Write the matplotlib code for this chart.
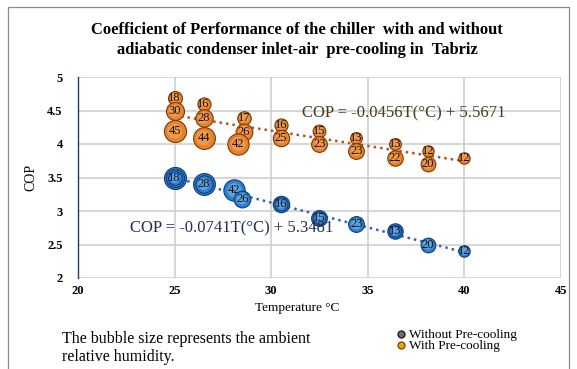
import matplotlib
matplotlib.use("Agg")
import matplotlib.pyplot as plt
from matplotlib.lines import Line2D
from matplotlib.patches import Rectangle
import numpy as np

# ---- data ----
with_T = [25.0, 25.0, 25.0, 26.5, 26.5, 26.5, 28.6, 28.6, 28.3, 30.5, 30.5,
          32.5, 32.5, 34.4, 34.4, 36.4, 36.4, 38.1, 38.1, 40.0]
with_cop = [4.69, 4.49, 4.19, 4.60, 4.39, 4.09, 4.39, 4.18, 4.00, 4.28, 4.09,
            4.19, 4.00, 4.09, 3.90, 4.00, 3.79, 3.90, 3.70, 3.79]
with_rh = [18, 30, 45, 16, 28, 44, 17, 26, 42, 16, 25,
           15, 23, 13, 23, 13, 22, 12, 20, 12]

wo_T = [25.0, 25.0, 25.0, 26.5, 26.5, 26.5, 28.1, 28.5, 28.5, 30.5, 30.5,
        32.5, 32.5, 34.4, 34.4, 36.4, 36.4, 38.1, 38.1, 40.0]
wo_cop = [3.49, 3.49, 3.49, 3.40, 3.40, 3.40, 3.31, 3.18, 3.18, 3.10, 3.10,
          2.90, 2.90, 2.80, 2.80, 2.70, 2.70, 2.50, 2.50, 2.40]
wo_rh = [45, 30, 18, 44, 16, 28, 42, 17, 26, 25, 16,
         23, 15, 13, 23, 22, 13, 12, 20, 12]

with_slope, with_icpt = -0.0456, 5.5671
wo_slope, wo_icpt = -0.0741, 5.3481
x_ticks = [20, 25, 30, 35, 40, 45]
y_ticks = [2, 2.5, 3, 3.5, 4, 4.5, 5]

serif = "Liberation Serif"

fig = plt.figure(figsize=(5.77, 3.69), dpi=100)
fig.patch.set_facecolor("white")
fig.add_artist(Rectangle((8/577, -0.01), 1 - 16/577, 1 - 7/369 + 0.01,
                         transform=fig.transFigure, fill=False,
                         edgecolor="#8c8c8c", linewidth=0.9))

ax = fig.add_axes([78/577, 1 - 278/369, (561 - 78)/577, (278 - 77)/369])
ax.set_xlim(20, 45)
ax.set_ylim(2, 5)
ax.set_xticks(x_ticks)
ax.set_yticks(y_ticks)
ax.set_xticklabels([str(v) for v in x_ticks], fontfamily=serif, fontweight="bold", fontsize=9)
ax.set_yticklabels([("%g" % v) for v in y_ticks], fontfamily=serif, fontweight="bold", fontsize=9)
ax.tick_params(axis="y", length=0, pad=11)
ax.tick_params(axis="x", length=0, pad=5)
ax.grid(True, color="#d0d0d0", linewidth=1.2)
ax.set_axisbelow(True)
for s in ["top", "right", "bottom"]:
    ax.spines[s].set_visible(False)
ax.spines["left"].set_color("#1f3b6e")
ax.spines["left"].set_linewidth(1.0)
ax.set_xlabel("Temperature °C", fontfamily=serif, fontsize=9.5)
ax.set_ylabel("COP", fontfamily=serif, fontsize=10)
ax.xaxis.set_label_coords(0.453, -0.118)
ax.yaxis.set_label_coords(-0.085, 0.5)

# trend lines
tt = np.array([25, 40])
ax.plot(tt, with_slope * tt + with_icpt, linestyle=(0, (1, 1.6)), color="#c0501a", lw=1.8, zorder=2)
ax.plot(tt, wo_slope * tt + wo_icpt, linestyle=(0, (1, 1.6)), color="#2f66b0", lw=1.8, zorder=2)

def bubbles(T, cop, rh, base, dark, light):
    k = 5.6
    for i in range(len(T)):
        s = rh[i] * k
        z = 3 + i * 0.01
        ax.scatter([T[i]], [cop[i]], s=s, color=base, edgecolors=dark, linewidths=0.8, zorder=z)
        ax.scatter([T[i]], [cop[i]], s=s * 0.45, color=light, edgecolors="none", alpha=0.5, zorder=z + 0.001)
        ax.text(T[i], cop[i], str(rh[i]), ha="center", va="center", fontsize=9,
                fontfamily=serif, color="#111111", zorder=z + 0.002)

bubbles(with_T, with_cop, with_rh, "#e8822a", "#7a3a08", "#f7b070")
bubbles(wo_T, wo_cop, wo_rh, "#2f7fd0", "#0f3d78", "#8cc4f2")

ax.text(31.6, 4.45, "COP = -0.0456T(°C) + 5.5671", fontfamily=serif, fontsize=12,
        color="#4a3a1e", va="center", ha="left", zorder=10)
ax.text(22.7, 2.74, "COP = -0.0741T(°C) + 5.3481", fontfamily=serif, fontsize=12,
        color="#1f2f55", va="center", ha="left", zorder=10)

fig.text(297/577, 1 - 30/369, "Coefficient of Performance of the chiller  with and without",
         ha="center", va="center", fontfamily=serif, fontweight="bold", fontsize=11.9)
fig.text(297/577, 1 - 50/369, "adiabatic condenser inlet-air  pre-cooling in  Tabriz",
         ha="center", va="center", fontfamily=serif, fontweight="bold", fontsize=11.9)

fig.text(62/577, 1 - 339/369, "The bubble size represents the ambient",
         ha="left", va="center", fontfamily=serif, fontsize=11.5)
fig.text(62/577, 1 - 357/369, "relative humidity.",
         ha="left", va="center", fontfamily=serif, fontsize=11.5)

handles = [Line2D([], [], marker="o", linestyle="none", markersize=5,
                  markerfacecolor="#707070", markeredgecolor="#202020"),
           Line2D([], [], marker="o", linestyle="none", markersize=5,
                  markerfacecolor="#f0a020", markeredgecolor="#805000")]
fig.legend(handles, ["Without Pre-cooling", "With Pre-cooling"],
           loc="upper left", bbox_to_anchor=(394/577, 1 - 329/369), frameon=False,
           prop={"family": serif, "size": 9.5}, handletextpad=0.1, labelspacing=-0.1,
           handlelength=1.0, borderaxespad=0, borderpad=0)

fig.savefig("out.png", dpi=100, facecolor="white")
